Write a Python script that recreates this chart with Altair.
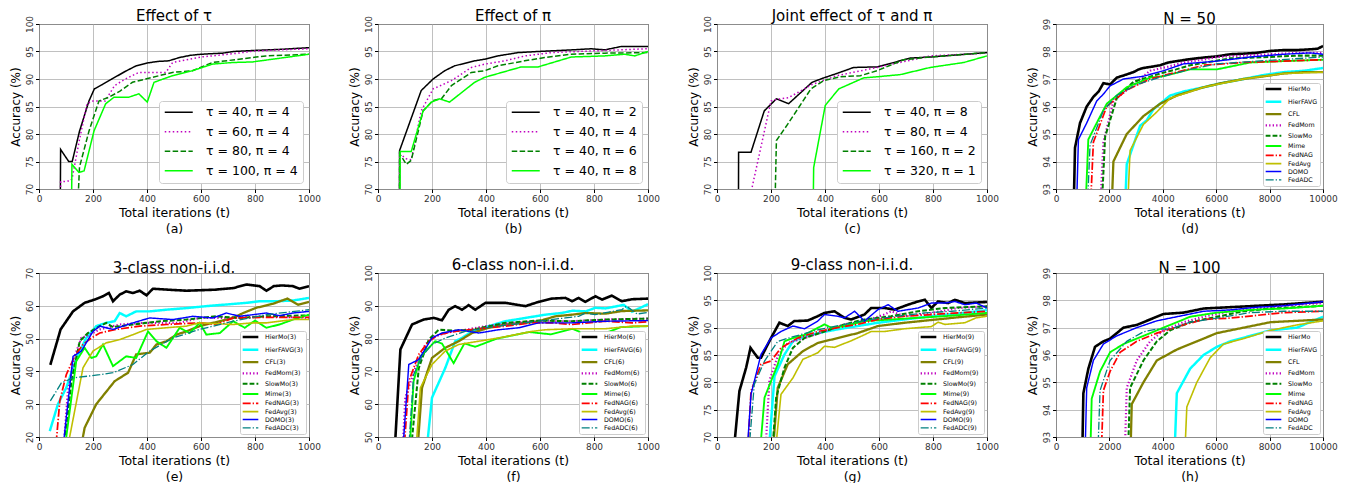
import altair as alt
import pandas as pd

FONT = "DejaVu Sans"

# ---------------- data (x = total iterations, y = accuracy %) ----------------
# (a) Effect of tau
a_t40 = [(76,40),(80,77.2),(110,75),(123,75),(150,80.5),(185,86),(205,88.2),(235,89),(270,90),(320,91.4),(360,92.4),(400,92.9),(440,93.2),(480,93.3),(520,93.9),(560,94.3),(600,94.5),(680,94.7),(720,95.0),(800,95.2),(900,95.4),(1000,95.7)]
a_t60 = [(78,50),(80,71.3),(118,71.5),(123,72),(150,79),(178,85.5),(200,86),(245,86),(280,88.8),(320,90),(370,91.2),(470,91.2),(495,93),(600,94),(720,94.6),(800,95.1),(1000,95.5)]
a_t80 = [(128,50),(150,74),(185,80.5),(222,86),(259,86.7),(300,87.8),(346,89.4),(395,90),(494,91.2),(568,91.5),(642,93),(741,93.6),(840,94.2),(1000,94.5)]
a_t100 = [(117,50),(122,74.5),(148,73),(167,73.3),(204,80.6),(247,85.5),(278,86.7),(333,86.7),(370,87.3),(401,85.8),(426,89.4),(494,90.6),(568,91.5),(642,92.7),(716,93),(790,93.1),(1000,94.5)]
# (b) Effect of pi
b_p2 = [(78,40),(80,77),(160,87.9),(204,90),(247,91.5),(284,92.4),(358,93.3),(395,93.6),(444,94.2),(519,94.8),(593,95),(719,95.3),(790,95.5),(840,95.3),(900,95.9),(1000,95.9)]
b_p4 = [(78,40),(80,76.4),(105,75.5),(123,75.3),(160,84.2),(204,88.2),(272,89.7),(346,92.1),(395,92.7),(470,93.3),(545,94.2),(642,94.8),(790,95.1),(1000,95.5)]
b_p6 = [(78,40),(80,76.4),(105,74.5),(123,75.2),(167,84.2),(204,86.1),(235,86.4),(272,88.8),(346,91.2),(395,91.5),(444,92.4),(543,93.3),(617,93.9),(716,94.5),(840,94.7),(1000,94.8)]
b_p8 = [(80,40),(82,76.8),(123,76.8),(167,84.2),(198,85.8),(228,86.4),(265,85.8),(358,89.4),(395,90.3),(531,92.2),(593,92.2),(716,94),(840,94.2),(914,94.5),(951,94.2),(1000,95)]
# (c) Joint effect
c_1 = [(78,40),(80,76.7),(126,76.7),(175,84.2),(220,86.4),(265,85.5),(352,89.4),(395,90.2),(444,91),(506,92.1),(593,92.2),(716,93.8),(790,94),(1000,94.8)]
c_2 = [(125,50),(130,70.3),(200,86),(222,86.3),(265,86.6),(352,89),(444,90.6),(593,92.1),(790,94.2),(914,94.5),(1000,94.7)]
c_3 = [(203,40),(220,78.8),(262,81.8),(348,88.2),(395,89.7),(457,90.4),(531,90.6),(593,91.5),(691,93.5),(790,94),(1000,94.8)]
c_4 = [(350,40),(358,73.9),(401,85.2),(451,88.2),(543,90.2),(593,90.4),(679,90.8),(790,92.1),(914,93),(1000,94.2)]
# (d) N = 50
d_hiermo = [(500,85),(712,94.5),(900,95.4),(1150,96),(1400,96.35),(1600,96.55),(1775,96.85),(2025,96.8),(2275,97.05),(2600,97.15),(2900,97.25),(3100,97.35),(3275,97.4),(3600,97.45),(3900,97.5),(4200,97.6),(4525,97.65),(5000,97.72),(5525,97.78),(6000,97.82),(6525,97.9),(7000,97.92),(7500,97.95),(8025,98.02),(8500,98.05),(9000,98.05),(9525,98.08),(9800,98.1),(10000,98.2)]
d_hierfavg = [(2300,85),(2650,93.9),(3150,95.3),(3400,95.5),(3650,95.9),(4275,96.4),(4800,96.55),(5525,96.7),(6200,96.85),(7025,97.0),(7800,97.15),(8525,97.25),(9300,97.3),(10000,97.4)]
d_cfl = [(1800,85),(2150,94.0),(2650,95.0),(3275,95.65),(3900,96.1),(4525,96.4),(5525,96.7),(6200,96.85),(7025,97.0),(7800,97.1),(8525,97.2),(9300,97.25),(10000,97.25)]
d_fedmom = [(1300,85),(1775,94.7),(2150,96.2),(2775,96.7),(3525,97.3),(4200,97.45),(4775,97.6),(5500,97.7),(6025,97.8),(7000,97.85),(8000,97.9),(9000,97.95),(10000,97.95)]
d_slowmo = [(1350,85),(1840,94.9),(2275,96.3),(2900,96.9),(3900,97.2),(4500,97.35),(5025,97.5),(6525,97.75),(8000,97.8),(9000,97.85),(10000,97.85)]
d_mime = [(800,85),(1210,94.8),(1525,95.4),(1900,96.1),(2650,96.7),(3525,97.05),(4000,97.1),(5025,97.35),(6025,97.35),(7275,97.6),(8500,97.65),(10000,97.7)]
d_fednag = [(950,85),(1400,94.7),(1900,96.0),(2650,96.6),(3525,97.0),(4525,97.25),(5525,97.5),(7000,97.6),(8500,97.65),(10000,97.7)]
d_fedavg = [(2350,85),(2775,94.4),(3275,95.35),(3775,95.8),(4275,96.3),(5525,96.7),(7025,97.0),(8525,97.2),(10000,97.25)]
d_domo = [(560,85),(840,94.8),(1150,95.4),(1525,96.2),(1775,96.45),(2025,96.75),(2525,97.0),(3275,97.1),(4025,97.3),(4775,97.55),(6025,97.65),(7275,97.8),(8525,97.9),(9525,97.95),(10000,97.9)]
d_fedadc = [(850,85),(1275,94.6),(1775,95.85),(2275,96.4),(3025,96.8),(4025,97.1),(5025,97.35),(6025,97.55),(7525,97.65),(10000,97.8)]
# (e) 3-class non-iid
e_hiermo = [(42,42),(80,52.8),(126,58.3),(169,60.9),(206,61.9),(237,62.9),(259,63.9),(274,61.4),(299,63.4),(323,64.4),(348,63.9),(373,64.6),(398,63.2),(422,65.2),(480,64.9),(546,64.6),(650,64.9),(720,65.4),(768,66.5),(817,66),(842,64.6),(870,66),(900,66.2),(940,66),(965,65.2),(1000,66)]
e_hierfavg = [(40,21.8),(70,30),(101,35),(138,44),(175,50.2),(212,53.8),(249,54.8),(280,55.3),(299,57.8),(323,56.8),(360,58.3),(410,58.3),(470,58.8),(546,59.3),(620,59.9),(694,60.4),(768,60.9),(817,61.4),(880,61.4),(940,61.6),(1000,62.4)]
e_cfl = [(140,10),(169,22.8),(212,30),(280,37),(330,39.6),(360,45.2),(410,45.7),(435,48.2),(472,49.2),(509,51.2),(546,52.2),(595,53.8),(644,54.8),(719,56.3),(756,57.8),(805,59.4),(866,60.6),(920,62.2),(960,60.3),(1000,61.2)]
e_fedmom = [(85,10),(107,34),(132,44.6),(157,50.2),(188,51.2),(225,52.8),(299,54.3),(385,54.8),(520,54.8),(595,56.3),(719,56.3),(842,56.8),(1000,56.3)]
e_slowmo = [(85,10),(120,37),(151,49.2),(181,51.7),(225,53.8),(249,54.8),(274,53.5),(348,54.3),(450,55.3),(546,55.8),(657,56.8),(743,56.3),(842,56.8),(1000,57.1)]
e_mime = [(85,10),(138,43.1),(169,47.2),(194,44.1),(212,44.6),(237,48.2),(274,41.6),(323,44.6),(360,44.1),(404,52.2),(435,49.2),(472,47.2),(521,53.3),(558,51.7),(595,54.8),(620,51.2),(670,51.7),(719,55.3),(762,53.3),(800,55.5),(842,53.3),(891,54.3),(941,55.8),(1000,57.3)]
e_fednag = [(55,10),(77,31),(101,39),(132,44.6),(163,48.2),(194,50.2),(225,51.7),(286,52.8),(373,53.8),(472,54.3),(595,54.8),(657,54.3),(719,56.3),(842,56.5),(1000,56.5)]
e_fedavg = [(90,10),(163,41.1),(200,46.2),(249,48.7),(299,49.7),(348,51.2),(398,52.8),(472,53.3),(546,53.8),(595,54.8),(719,54.3),(790,54.8),(842,54.8),(891,55.3),(941,55.8),(1000,55.8)]
e_domo = [(80,10),(126,44.6),(157,46.2),(200,52.2),(225,53.8),(274,52.8),(348,54.8),(410,56.3),(496,55.8),(570,56.8),(644,56.3),(694,57.8),(743,56.8),(842,57.8),(891,57),(941,57.8),(1000,58.3)]
e_fedadc = [(42,31),(83,36.5),(126,38),(225,39),(274,39.6),(348,42.1),(410,46.2),(496,50.2),(595,52.8),(719,55.3),(842,57.3),(1000,58.8)]
# (f) 6-class non-iid
f_hiermo = [(44,20),(83,76.7),(126,84.3),(169,85.8),(206,86.3),(237,85.6),(262,88.8),(286,89.9),(311,88.8),(336,90.2),(360,88.8),(398,90.9),(472,90.9),(509,90.4),(546,89.9),(595,91.2),(644,92.2),(694,92.4),(719,91.4),(743,92.4),(768,91.2),(805,92.9),(830,91.9),(866,93.1),(903,91.4),(941,92),(1000,92.2)]
f_hierfavg = [(148,20),(200,62),(249,71),(286,79.2),(311,80.2),(348,82.2),(410,83.8),(472,85.3),(546,86.3),(620,87.3),(680,87.8),(720,88.5),(770,88.3),(805,89.4),(842,89.2),(880,89.8),(910,90.3),(941,88.2),(1000,90.5)]
f_cfl = [(123,20),(163,65),(200,74.1),(249,77.2),(299,79.2),(348,81.7),(410,83.3),(472,84.3),(546,84.8),(595,85.3),(657,86.8),(719,87.3),(768,87.8),(842,87.6),(903,88.4),(1000,88.6)]
f_fedmom = [(75,20),(101,62),(138,71),(175,78.2),(212,80.7),(262,82),(323,82.7),(398,83.8),(496,84.8),(595,85.3),(719,85.3),(842,85.8),(1000,86.1)]
f_slowmo = [(92,20),(151,71),(188,79.7),(225,82.7),(286,82.4),(348,82.7),(472,84.8),(595,85.5),(719,85.3),(842,85.8),(1000,86.1)]
f_mime = [(98,20),(132,67),(157,74.6),(188,77.2),(212,79.2),(237,78.5),(280,72.5),(320,78.5),(360,77.5),(440,80),(500,81),(560,82),(640,81.3),(720,83),(780,81),(820,81),(900,83.5),(1000,83.8)]
f_fednag = [(75,20),(114,67),(151,75.2),(188,79.2),(225,81.2),(286,82.2),(373,83),(472,83.8),(570,84.8),(644,84.8),(719,84.3),(842,85.3),(941,84.8),(1000,85.1)]
f_fedavg = [(118,20),(157,65),(200,72.1),(249,76.2),(299,78.2),(373,79.2),(447,80.2),(509,81.2),(570,82.2),(620,82.7),(719,83),(842,83),(941,83.8),(1000,83.8)]
f_domo = [(70,20),(114,72.1),(151,73.6),(200,80.2),(237,81.7),(299,82.7),(373,81.7),(447,82.7),(521,83.3),(595,84.8),(719,84.8),(842,85.3),(1000,85.5)]
f_fedadc = [(92,20),(132,69),(163,74.6),(200,78.2),(249,80.2),(323,82.2),(398,83.3),(496,84.3),(595,85.3),(694,86.3),(743,86.8),(768,87.8),(805,87.3),(854,88.1),(903,88.8),(920,89.9),(960,87.5),(1000,88)]
# (g) 9-class non-iid
g_hiermo = [(60,50),(67,70),(83,78.4),(108,82.7),(124,86.3),(151,84.5),(163,84.5),(200,88.1),(231,90.9),(262,90.3),(286,91.2),(336,91.3),(373,92.1),(398,92.7),(435,93),(472,91.8),(497,91.5),(546,92.4),(571,93.6),(621,93.6),(658,93.3),(707,94.2),(745,94.8),(770,95.1),(794,93.6),(819,94.8),(856,94.5),(881,95.1),(918,94.5),(1000,94.7)]
g_hierfavg = [(165,50),(213,81.1),(250,85.1),(281,87.5),(324,88.4),(373,89),(447,89.7),(521,90.3),(596,90.9),(695,91.5),(794,92.1),(893,92.6),(1000,93.2)]
g_cfl = [(180,50),(225,79),(262,83.3),(318,85.7),(373,87.2),(447,88.1),(521,89),(596,90.3),(695,90.9),(794,91.4),(893,91.9),(1000,92.4)]
g_fedmom = [(160,50),(194,80.3),(225,84.8),(262,87.2),(324,88.1),(398,89.3),(472,90.6),(546,91.2),(620,92.4),(645,93.0),(695,92.1),(794,92.7),(893,93.6),(1000,93.9)]
g_slowmo = [(180,50),(219,77.2),(250,82.7),(281,86.3),(324,88.1),(398,89.3),(472,90.6),(546,91.5),(645,92.1),(745,93.0),(844,93.6),(1000,93.9)]
g_mime = [(130,50),(176,77.2),(225,83.3),(250,87.5),(281,88.1),(324,88.7),(398,90.6),(423,90),(472,90.3),(546,91.2),(645,91.5),(745,91.8),(844,92.1),(1000,92.7)]
g_fednag = [(95,50),(126,78.4),(163,83.3),(200,83.9),(237,86.3),(299,88.1),(373,89.3),(447,90),(521,90.6),(596,91.5),(695,92.1),(794,92.4),(893,92.7),(1000,93)]
g_fedavg = [(182,50),(237,77.8),(281,80.8),(318,84.2),(373,85.4),(398,86.6),(435,86.4),(497,87.6),(546,88.7),(571,89.3),(620,89.3),(695,89.8),(794,90.2),(819,91.0),(844,90.6),(918,90.9),(960,91.8),(1000,92.1)]
g_domo = [(88,50),(126,77.8),(163,85.1),(200,88.1),(237,89.3),(281,90.3),(324,89.8),(373,91.2),(398,92.4),(447,92.1),(472,91.8),(510,93),(546,91.2),(596,93.3),(634,94.2),(670,93),(745,93.6),(794,94.5),(844,94.5),(881,94.8),(918,94.2),(960,94.5),(1000,93.6)]
g_fedadc = [(90,50),(138,79.6),(176,83.9),(225,87.5),(286,88.4),(373,89.6),(472,90.6),(571,91.5),(670,92.1),(770,92.7),(869,93),(1000,93.6)]
# (h) N = 100
h_hiermo = [(850,85),(1025,94.6),(1212,95.5),(1462,96.3),(1775,96.5),(2025,96.6),(2525,97.0),(3025,97.1),(3525,97.3),(4025,97.5),(4775,97.55),(5525,97.7),(6525,97.75),(7525,97.8),(8525,97.85),(10000,97.95)]
h_hierfavg = [(4150,85),(4525,94.6),(5025,95.5),(5525,96),(6025,96.3),(6525,96.5),(7275,96.7),(8025,96.9),(9025,97.0),(10000,97.4)]
h_cfl = [(2600,85),(2837,94.2),(3275,95.0),(3775,95.8),(4525,96.2),(5275,96.5),(6025,96.8),(7025,97.0),(8025,97.2),(9025,97.25),(10000,97.3)]
h_fedmom = [(2350,85),(2650,94.8),(3025,95.8),(3525,96.5),(4025,96.9),(4775,97.2),(5525,97.4),(6525,97.6),(7525,97.7),(8525,97.8),(10000,97.9)]
h_slowmo = [(2450,85),(2775,94.8),(3275,95.8),(3775,96.5),(4275,96.9),(5025,97.2),(6025,97.4),(7025,97.6),(8025,97.7),(10000,97.8)]
h_mime = [(1100,85),(1337,94.4),(1650,95.4),(2025,96.1),(2525,96.4),(3275,96.7),(4025,97.0),(5025,97.4),(6025,97.55),(7275,97.65),(8525,97.7),(10000,97.8)]
h_fednag = [(1450,85),(1775,94.7),(2025,95.4),(2400,96.1),(3025,96.5),(3775,96.8),(4775,97.1),(5525,97.3),(6525,97.35),(7525,97.45),(8525,97.55),(10000,97.6)]
h_fedavg = [(4500,85),(4900,94.1),(5275,95.0),(5775,95.9),(6275,96.4),(7025,96.6),(8025,96.9),(9025,97.1),(10000,97.25)]
h_domo = [(900,85),(1150,94.8),(1400,95.8),(1775,96.4),(2275,96.7),(3025,97),(3775,97.25),(4525,97.4),(5525,97.6),(6525,97.65),(7525,97.75),(8525,97.8),(10000,97.95)]
h_fedadc = [(1300,85),(1650,94.7),(2025,95.8),(2650,96.5),(3275,96.85),(3775,96.95),(4275,96.95),(5025,97.2),(6025,97.35),(7275,97.55),(8525,97.6),(10000,97.6)]

# ---------------- labels / styles ----------------
A_LABELS = ["τ = 40, π = 4", "τ = 60, π = 4", "τ = 80, π = 4", "τ = 100, π = 4"]
B_LABELS = ["τ = 40, π = 2", "τ = 40, π = 4", "τ = 40, π = 6", "τ = 40, π = 8"]
C_LABELS = ["τ = 40, π = 8", "τ = 80, π = 4", "τ = 160, π = 2", "τ = 320, π = 1"]
ABC_COLORS = ["#000000", "#bf00bf", "#008000", "#00ff00"]
ABC_DASH = [[1, 0], [1.5, 2.5], [5.5, 2.4], [1, 0]]
ABC_WIDTH = [1.5, 1.5, 1.5, 1.5]

METHODS = ["HierMo", "HierFAVG", "CFL", "FedMom", "SlowMo", "Mime", "FedNAG", "FedAvg", "DOMO", "FedADC"]
M_COLORS = ["#000000", "#00ffff", "#808000", "#bf00bf", "#008000", "#00ff00", "#ff0000", "#bfbf00", "#0000ff", "#008080"]
M_DASH = [[1, 0], [1, 0], [1, 0], [1.3, 2.2], [4.8, 2.1], [1, 0], [8, 2, 1.3, 2], [1, 0], [1, 0], [8, 2, 1.3, 2]]
M_WIDTH = [2.6, 1.3, 1.3, 1.3, 1.3, 1.3, 1.3, 1.3, 1.3, 1.3]

# custom wide line symbol for legends (path extent 7 units -> 3.5 * sqrt(size))
LINE_SYMBOL = "M-3.5,0H3.5"


def make_df(names, series):
    rows = []
    for name, pts in zip(names, series):
        for i, (x, y) in enumerate(pts):
            rows.append({"series": name, "x": x, "y": y, "i": i})
    return pd.DataFrame(rows)


def panel(names, series, colors, dashes, widths, title, sub, xmax, xticks, ydom, yticks, big, w=270, h=165):
    df = make_df(names, series)
    if big:
        leg = alt.Legend(title=None, orient="bottom-right", offset=6, labelFontSize=12.5, labelFont=FONT,
                         labelColor="black", symbolType=LINE_SYMBOL, symbolSize=64, symbolOffset=8.5,
                         labelOffset=21, rowPadding=6.5, padding=5, fillColor="white", strokeColor="#cccccc",
                         cornerRadius=3, labelLimit=200)
    else:
        leg = alt.Legend(title=None, orient="bottom-right", offset=3, labelFontSize=6.3, labelFont=FONT,
                         labelColor="black", symbolType=LINE_SYMBOL, symbolSize=20, symbolOffset=4.5,
                         labelOffset=10.5, rowPadding=1.3, padding=2, fillColor="white", strokeColor="#cccccc",
                         cornerRadius=2, labelLimit=200)
    ch = alt.Chart(df).mark_line(clip=True).encode(
        x=alt.X("x:Q", scale=alt.Scale(domain=[0, xmax], nice=False, zero=False),
                axis=alt.Axis(values=xticks, title=["Total iterations (t)", sub], labelFlush=False,
                              format="d", titleLineHeight=16, titleFontSize=12.5)),
        y=alt.Y("y:Q", scale=alt.Scale(domain=ydom, nice=False, zero=False),
                axis=alt.Axis(values=yticks, title="Accuracy (%)", labelAngle=270, labelAlign="center",
                              labelBaseline="bottom", format="d", titleFontSize=12)),
        color=alt.Color("series:N", scale=alt.Scale(domain=names, range=colors), legend=leg),
        strokeDash=alt.StrokeDash("series:N", scale=alt.Scale(domain=names, range=dashes), legend=leg),
        strokeWidth=alt.StrokeWidth("series:N", scale=alt.Scale(domain=names, range=widths), legend=leg),
        order=alt.Order("i:Q"),
    ).properties(
        width=w, height=h,
        title=alt.TitleParams(title, fontSize=15, font=FONT, fontWeight="normal", offset=-9,
                              anchor="middle", color="black"),
    )
    return ch


XT1 = [0, 200, 400, 600, 800, 1000]
XT2 = [0, 2000, 4000, 6000, 8000, 10000]
Y70 = [70, 75, 80, 85, 90, 95, 100]
Y93 = [93, 94, 95, 96, 97, 98, 99]

pa = panel(A_LABELS, [a_t40, a_t60, a_t80, a_t100], ABC_COLORS, ABC_DASH, ABC_WIDTH,
           "Effect of τ", "(a)", 1000, XT1, [70, 100], Y70, True)
pb = panel(B_LABELS, [b_p2, b_p4, b_p6, b_p8], ABC_COLORS, ABC_DASH, ABC_WIDTH,
           "Effect of π", "(b)", 1000, XT1, [70, 100], Y70, True)
pc = panel(C_LABELS, [c_1, c_2, c_3, c_4], ABC_COLORS, ABC_DASH, ABC_WIDTH,
           "Joint effect of τ and π", "(c)", 1000, XT1, [70, 100], Y70, True)
pd_ = panel(METHODS, [d_hiermo, d_hierfavg, d_cfl, d_fedmom, d_slowmo, d_mime, d_fednag, d_fedavg, d_domo, d_fedadc],
            M_COLORS, M_DASH, M_WIDTH, "N = 50", "(d)", 10000, XT2, [93, 99], Y93, False, w=267)

m3 = [m + "(3)" for m in METHODS]
m6 = [m + "(6)" for m in METHODS]
m9 = [m + "(9)" for m in METHODS]
pe = panel(m3, [e_hiermo, e_hierfavg, e_cfl, e_fedmom, e_slowmo, e_mime, e_fednag, e_fedavg, e_domo, e_fedadc],
           M_COLORS, M_DASH, M_WIDTH, "3-class non-i.i.d.", "(e)", 1000, XT1, [20, 70], [20, 30, 40, 50, 60, 70], False, h=164)
pf = panel(m6, [f_hiermo, f_hierfavg, f_cfl, f_fedmom, f_slowmo, f_mime, f_fednag, f_fedavg, f_domo, f_fedadc],
           M_COLORS, M_DASH, M_WIDTH, "6-class non-i.i.d.", "(f)", 1000, XT1, [50, 100], [50, 60, 70, 80, 90, 100], False, h=164)
pg = panel(m9, [g_hiermo, g_hierfavg, g_cfl, g_fedmom, g_slowmo, g_mime, g_fednag, g_fedavg, g_domo, g_fedadc],
           M_COLORS, M_DASH, M_WIDTH, "9-class non-i.i.d.", "(g)", 1000, XT1, [70, 100], Y70, False, h=164)
ph = panel(METHODS, [h_hiermo, h_hierfavg, h_cfl, h_fedmom, h_slowmo, h_mime, h_fednag, h_fedavg, h_domo, h_fedadc],
           M_COLORS, M_DASH, M_WIDTH, "N = 100", "(h)", 10000, XT2, [93, 99], Y93, False, w=267, h=164)

RES = dict(color="independent", strokeDash="independent", strokeWidth="independent")

chart = alt.concat(pa, pb, pc, pd_, pe, pf, pg, ph, columns=4,
                   spacing=alt.RowColnumber(row=84, column=69), bounds="flush") \
    .resolve_scale(**RES).resolve_legend(**RES) \
    .properties(padding={"left": 0, "top": 0, "right": 0, "bottom": 0}, background="white") \
    .configure_view(stroke="black", strokeWidth=1) \
    .configure_axis(
        grid=True, gridColor="#b0b0b0", gridWidth=0.8, domain=False, tickColor="black", tickSize=3.5,
        labelFont=FONT, labelFontSize=9, labelColor="#333333", labelPadding=1.5,
        titleFont=FONT, titleFontSize=13, titleFontWeight="normal", titleColor="black", titlePadding=3,
    )

chart.save("out.html", embed_options={"renderer": "svg", "actions": False})
